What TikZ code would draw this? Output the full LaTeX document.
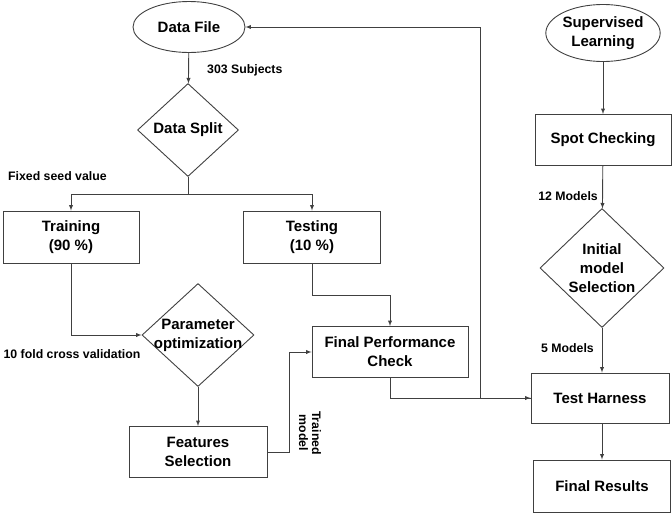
\documentclass[tikz,border=0pt]{standalone}
\usepackage{fontspec}
\setmainfont{Liberation Sans}
\usepackage{tikz}
\usetikzlibrary{arrows,shapes,positioning}

\begin{document}
\begin{tikzpicture}[x=1pt,y=-1pt]
\tikzstyle{every node}=[font=\bfseries\fontsize{15}{19}\selectfont, align=center]
\tikzstyle{box}=[rectangle, draw=black!75, line width=0.9pt, inner sep=0pt]
\tikzstyle{oval}=[ellipse, draw=black!75, line width=0.9pt, inner sep=0pt]
\tikzstyle{dia}=[diamond, draw=black!75, line width=0.9pt, inner sep=0pt]
\tikzstyle{lbl}=[font=\bfseries\fontsize{12.3}{13}\selectfont, inner sep=0pt]
\tikzstyle{arr}=[draw=black!75, line width=0.9pt, -latex]
\useasboundingbox (0,0) rectangle (672,512);
% left column
\node[oval, minimum width=112, minimum height=51] (df) at (189,27) {Data File};
\node[dia, minimum width=101, minimum height=93] (split) at (188,130) {};
\node (splittxt) at (split) {Data Split};
\node[box, minimum width=136, minimum height=52] (train) at (71,237) {Training\\(90 \%)};
\node[box, minimum width=137, minimum height=52] (test) at (312,237) {Testing\\(10 \%)};
\node[dia, minimum width=112, minimum height=103] (popt) at (198,335) {};
\node (popttxt) at (popt) {Parameter\\optimization};
\node[box, minimum width=138, minimum height=51] (feat) at (198,452) {Features\\Selection};
\node[box, minimum width=156, minimum height=51] (fpc) at (390,352) {Final Performance\\Check};
% right column
\node[oval, minimum width=112, minimum height=57] (sl) at (603,33) {Supervised\\Learning};
\node[box, minimum width=136, minimum height=51] (spot) at (603,140) {Spot Checking};
\node[dia, minimum width=124, minimum height=119] (init) at (602,268) {};
\node (inittxt) at (init) {Initial\\model\\Selection};
\node[box, minimum width=138, minimum height=50] (th) at (600,398) {Test Harness};
\node[box, minimum width=137, minimum height=52] (fr) at (602,486) {Final Results};
% labels
\node[lbl, anchor=west] (subj) at (207,70) {303 Subjects};
\node[lbl, anchor=west] (seed) at (8,176) {Fixed seed value};
\node[lbl] (cv) at (72,354) {10 fold cross validation};
\node[lbl, rotate=-90] (trained) at (310,433) {Trained\\model};
\node[lbl, anchor=east] (m12) at (598,196) {12 Models};
\node[lbl, anchor=east] (m5) at (594,348) {5 Models};
% connectors
\draw[arr] (df) -- (split);
\draw[arr] (split.south) -- ++(0,17) -| (train.north);
\draw[arr] (split.south) -- ++(0,17) -| (test.north);
\draw[arr] (train.south) |- (popt.west);
\draw[arr] (popt) -- (feat);
\draw[arr] (feat.east) -- ++(22,0) |- (fpc.west);
\draw[arr] (test.south) -- ++(0,32) -| (fpc.north);
\draw[arr] (fpc.south) |- (th.west);
\draw[arr] (th.west) -- ++(-50,0) |- (df.east);
\draw[arr] (sl) -- (spot);
\draw[arr] (spot) -- (init);
\draw[arr] (init.south) -- (init.south |- th.north);
\draw[arr] (th.south -| fr.north) -- (fr.north);
\end{tikzpicture}
\end{document}
